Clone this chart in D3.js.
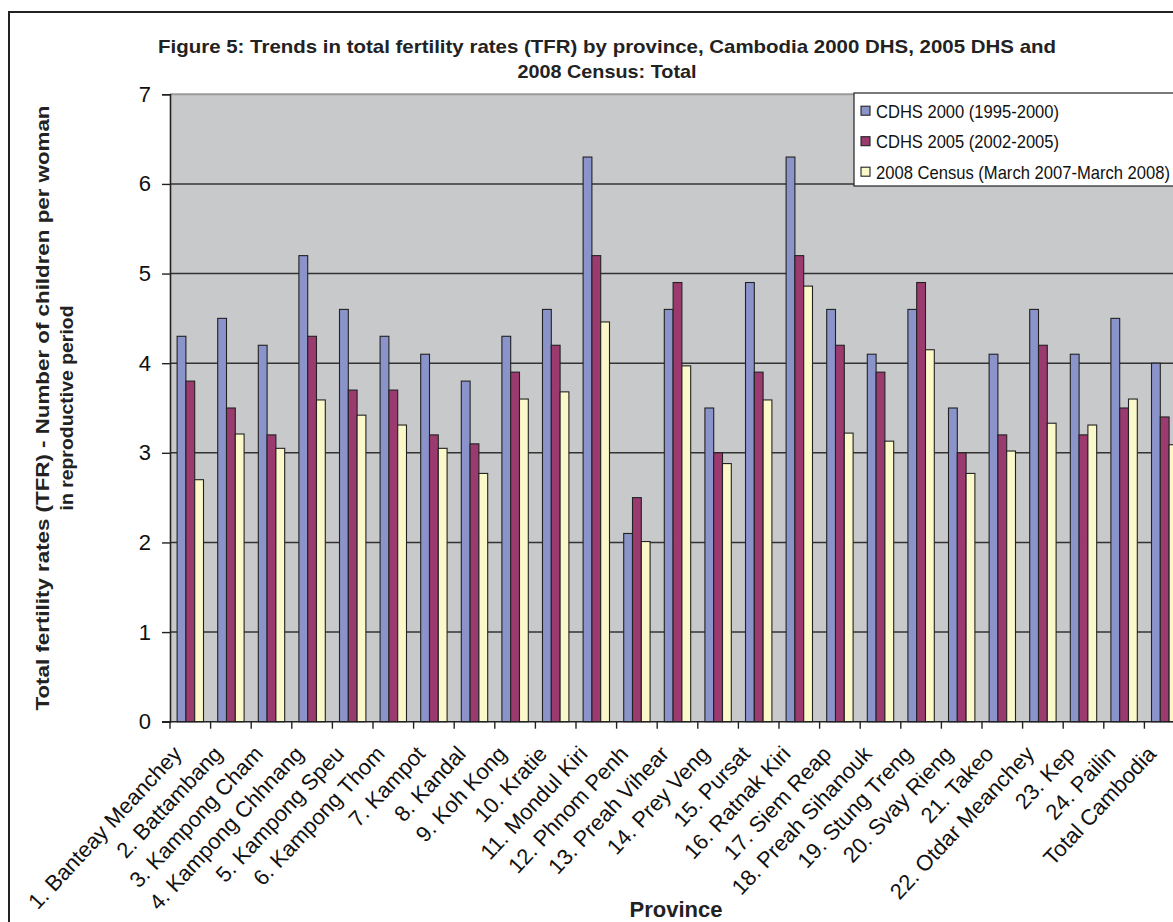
<!DOCTYPE html>
<html>
<head>
<meta charset="utf-8">
<script src="https://cdn.jsdelivr.net/npm/d3@7/dist/d3.min.js"></script>
<style>
  html, body { margin: 0; padding: 0; background: #fff; }
  svg { display: block; font-family: Arial, "Liberation Sans", sans-serif; }
</style>
</head>
<body>
<svg id="chart" width="1173" height="922"></svg>
<script>
const categories = ["1. Banteay Meanchey","2. Battambang","3. Kampong Cham","4. Kampong Chhnang","5. Kampong Speu","6. Kampong Thom","7. Kampot","8. Kandal","9. Koh Kong","10. Kratie","11. Mondul Kiri","12. Phnom Penh","13. Preah Vihear","14. Prey Veng","15. Pursat","16. Ratnak Kiri","17. Siem Reap","18. Preah Sihanouk","19. Stung Treng","20. Svay Rieng","21. Takeo","22. Otdar Meanchey","23. Kep","24. Pailin","Total Cambodia"];
const cdhs2000 = [4.3,4.5,4.2,5.2,4.6,4.3,4.1,3.8,4.3,4.6,6.3,2.1,4.6,3.5,4.9,6.3,4.6,4.1,4.6,3.5,4.1,4.6,4.1,4.5,4.0];
const cdhs2005 = [3.8,3.5,3.2,4.3,3.7,3.7,3.2,3.1,3.9,4.2,5.2,2.5,4.9,3.0,3.9,5.2,4.2,3.9,4.9,3.0,3.2,4.2,3.2,3.5,3.4];
const census2008 = [2.70,3.21,3.05,3.59,3.42,3.31,3.05,2.77,3.60,3.68,4.46,2.01,3.97,2.88,3.59,4.86,3.22,3.13,4.15,2.77,3.02,3.33,3.31,3.60,3.09];
const seriesNames = ["CDHS 2000 (1995-2000)","CDHS 2005 (2002-2005)","2008 Census (March 2007-March 2008)"];
const seriesColors = ["#8A93CA","#9A3A6E","#FBF8CA"];
const yTicks = [0,1,2,3,4,5,6,7];
const titleLines = ["Figure 5: Trends in total fertility rates (TFR) by province, Cambodia 2000 DHS, 2005 DHS and","2008 Census: Total"];
const yTitleLines = ["Total fertility rates (TFR) - Number of children per woman","in reproductive period"];
const xTitle = "Province";

(function(){
const seriesData = [cdhs2000, cdhs2005, census2008];
const rows = categories.map((c,i) => ({cat:c, vals: seriesData.map((s,j)=>({key:seriesNames[j], v:s[i], j}))}));

const svg = d3.select("#chart");

// outer frame
svg.append("rect").attr("x",9).attr("y",12).attr("width",1200).attr("height",960)
  .attr("fill","#fff").attr("stroke","#222").attr("stroke-width",2);

const pL = 170, pR = 1185, pT = 94.3, pB = 721.7;
const x = d3.scaleBand().domain(categories).range([pL,pR]).paddingInner(0.35).paddingOuter(0.175);
const xs = d3.scaleBand().domain(seriesNames).range([0,x.bandwidth()]);
const y = d3.scaleLinear().domain([0,7]).range([pB,pT]);

// plot background
svg.append("rect").attr("x",pL).attr("y",pT).attr("width",pR-pL).attr("height",pB-pT)
  .attr("fill","#C8C9CB");
svg.append("line").attr("x1",pL).attr("x2",pR).attr("y1",pT).attr("y2",pT)
  .attr("stroke","#9a9a9a").attr("stroke-width",2);

// gridlines
svg.append("g").selectAll("line").data(yTicks.filter(t=>t>0 && t<7)).join("line")
  .attr("x1",pL).attr("x2",pR).attr("y1",d=>y(d)).attr("y2",d=>y(d))
  .attr("stroke","#333").attr("stroke-width",1.4);

// bars
const g = svg.append("g");
g.selectAll("g").data(rows).join("g")
  .attr("transform",d=>`translate(${x(d.cat)},0)`)
  .selectAll("rect").data(d=>d.vals).join("rect")
  .attr("x",d=>xs(d.key)).attr("width",xs.bandwidth())
  .attr("y",d=>y(d.v)).attr("height",d=>y(0)-y(d.v))
  .attr("fill",d=>seriesColors[d.j]).attr("stroke","#222").attr("stroke-width",1.1);

// y axis
const yAxis = d3.axisLeft(y).tickValues(yTicks).tickSize(8).tickPadding(11).tickFormat(d3.format("d"));
const ya = svg.append("g").attr("transform",`translate(${pL},0)`).call(yAxis);
ya.select(".domain").attr("stroke","#222").attr("stroke-width",1.6);
ya.selectAll(".tick line").attr("stroke","#222").attr("stroke-width",1.4);
ya.selectAll(".tick text").attr("font-size",22).attr("fill","#111").attr("font-family","Arial, 'Liberation Sans', sans-serif");

// x axis line and boundary ticks
const step = x.step();
const bounds = d3.range(categories.length+1).map(k => x(categories[0]) - x.paddingOuter()*step + k*step);
svg.append("line").attr("x1",pL-8).attr("x2",pR).attr("y1",pB).attr("y2",pB)
  .attr("stroke","#222").attr("stroke-width",1.6);
svg.append("g").selectAll("line").data(bounds).join("line")
  .attr("x1",d=>d).attr("x2",d=>d).attr("y1",pB).attr("y2",pB+7)
  .attr("stroke","#222").attr("stroke-width",1.4);

// x labels
svg.append("g").selectAll("text").data(categories).join("text")
  .attr("transform",d=>`translate(${x(d)+x.bandwidth()/2-13},${pB+28}) rotate(-47)`)
  .attr("text-anchor","end").attr("dy","0.35em")
  .attr("font-size",22).attr("fill","#111").text(d=>d);

// titles
const tl = [{t:titleLines[0], y:53, len:898}, {t:titleLines[1], y:78, len:179}];
svg.append("g").selectAll("text").data(tl).join("text")
  .attr("x",607).attr("y",d=>d.y).attr("text-anchor","middle")
  .attr("font-size",19).attr("font-weight","bold").attr("fill","#222")
  .attr("textLength",d=>d.len).attr("lengthAdjust","spacingAndGlyphs").text(d=>d.t);

// y title
const yt = [{t:yTitleLines[0], x:49, len:605}, {t:yTitleLines[1], x:73, len:205}];
svg.append("g").selectAll("text").data(yt).join("text")
  .attr("transform",d=>`translate(${d.x},${(pT+pB)/2}) rotate(-90)`)
  .attr("text-anchor","middle").attr("font-size",18).attr("font-weight","bold").attr("fill","#222")
  .attr("textLength",d=>d.len).attr("lengthAdjust","spacingAndGlyphs").text(d=>d.t);

// x title
svg.append("text").attr("x",676).attr("y",917).attr("text-anchor","middle")
  .attr("font-size",22).attr("font-weight","bold").attr("fill","#222").text(xTitle);

// legend
const lg = svg.append("g");
lg.append("rect").attr("x",854).attr("y",93).attr("width",330).attr("height",93)
  .attr("fill","#fff").attr("stroke","#222").attr("stroke-width",1.2);
const legLens = [183,183,294];
const li = lg.selectAll("g").data(seriesNames).join("g")
  .attr("transform",(d,i)=>`translate(861,${110.7 + i*30.5})`);
li.append("rect").attr("x",0).attr("y",-4.5).attr("width",9).attr("height",9)
  .attr("fill",(d,i)=>seriesColors[i]).attr("stroke","#222").attr("stroke-width",1.1);
li.append("text").attr("x",15).attr("y",0).attr("dy","0.36em").attr("font-size",19).attr("fill","#111")
  .attr("textLength",(d,i)=>legLens[i]).attr("lengthAdjust","spacingAndGlyphs").text(d=>d);
})();
</script>
</body>
</html>
